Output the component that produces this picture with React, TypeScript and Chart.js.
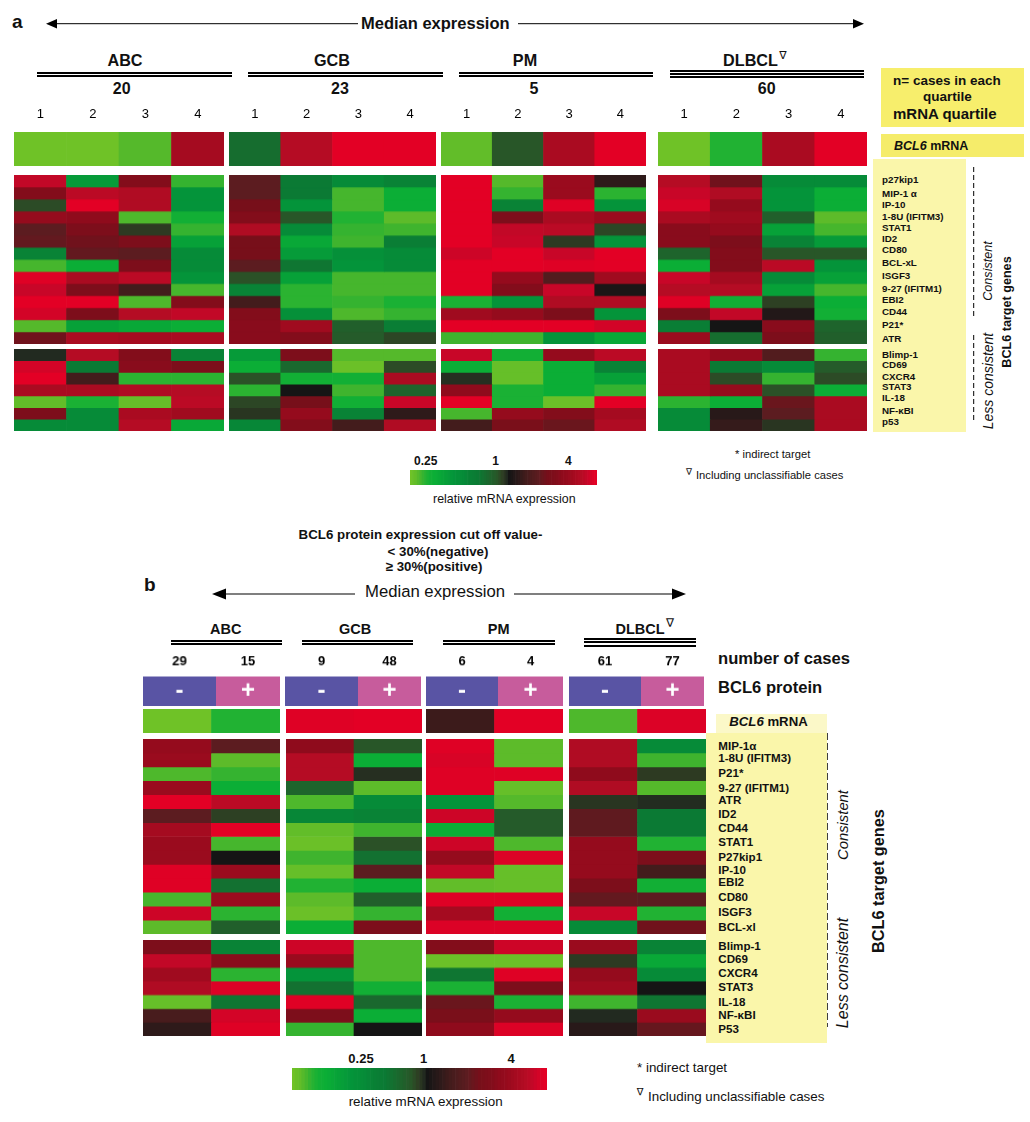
import React, { useEffect, useRef } from "react";
import { Chart, registerables } from "chart.js";

Chart.register(...registerables);

const FONT = '"Liberation Sans", Arial, sans-serif';

// ---------- data: log2-like relative expression ----------
const quartiles = ["1", "2", "3", "4"];
const groupsA = ["ABC", "GCB", "PM", "DLBCL"];
const countsA = ["20", "23", "5", "60"];
const countsB = [["29", "15"], ["9", "48"], ["6", "4"], ["61", "77"]];
const proteinClasses = ["-", "+"];

const genesA = ["p27kip1", "MIP-1 α", "IP-10", "1-8U (IFITM3)", "STAT1", "ID2", "CD80", "BCL-xL", "ISGF3", "9-27 (IFITM1)", "EBI2", "CD44", "P21*", "ATR", "Blimp-1", "CD69", "CXCR4", "STAT3", "IL-18", "NF-κBI", "p53"];
const genesB = ["MIP-1α", "1-8U (IFITM3)", "P21*", "9-27 (IFITM1)", "ATR", "ID2", "CD44", "STAT1", "P27kip1", "IP-10", "EBI2", "CD80", "ISGF3", "BCL-xl", "Blimp-1", "CD69", "CXCR4", "STAT3", "IL-18", "NF-κBI", "P53"];

const stripA = [
  [-3, -3, -2.5, 1.8],
  [-0.75, 2.1, 3, 3],
  [-2.7, -0.5, 1.9, 3],
  [-3, -1.9, 1.9, 3],
];
const consistentA_ABC = [
  [2.3, -1.3, 1.2, -2.1], [1.2, 2.2, 2.0, -1.2], [-0.4, 3, 2.0, -1.2], [1.5, 1.4, -2.4, -1.7],
  [0.6, 1.1, -0.25, -2.1], [0.7, 0.9, 1.1, -1.4], [-1.0, 0.7, 0.6, -1.1], [-2.3, -1.6, 1.1, -1.1],
  [2.9, 1.9, 2.2, -1.2], [2.4, 1.1, 0.35, -2.3], [3, 3, -2.4, 1.2], [2.6, 1.1, 2.1, 2.3],
  [-2.5, -1.4, -1.5, -1.6], [0.9, 1.9, 1.8, 1.9],
];
const lessA_ABC = [
  [-0.1, 2.1, 1.2, -1.0], [2.6, -0.9, 1.3, 1.1], [3, 0.35, -2.0, -2.0], [1.9, 1.9, 2.0, 2.1],
  [-2.7, -1.8, -2.8, 2.2], [1.1, -1.1, 1.9, 1.7], [-1.1, -1.1, 2.1, -1.5],
];
const consistentA_GCB = [
  [0.6, -0.9, -1.1, -1.0], [0.6, -0.9, -2.3, -1.6], [1.0, -1.2, -2.3, -1.6], [1.2, -0.5, -1.9, -2.6],
  [2.0, -1.1, -2.1, -2.2], [1.0, -1.5, -2.2, -0.95], [1.0, -1.3, -1.15, -1.1], [0.6, -0.85, -1.2, -1.1],
  [-0.45, -1.4, -2.3, -2.3], [-1.0, -2.0, -2.3, -2.3], [0.35, -2.0, -2.1, -1.8], [1.2, -1.15, -2.4, -2.1],
  [1.3, 1.7, -0.6, -0.95], [1.3, 1.2, -0.55, -0.35],
];
const lessA_GCB = [
  [-1.3, 1.1, -2.5, -2.5], [-1.6, -0.7, -2.9, -0.4], [-0.45, -1.7, -1.7, 1.9], [-2.0, 0, -2.2, -0.65],
  [-0.35, 1.0, -1.7, 2.4], [-0.2, 1.5, -1.0, 0.2], [-1.05, 1.2, 0.35, 2.0],
];
const consistentA_PM = [
  [3, -2.5, 1.6, 0.2], [3, -2.1, 1.6, -2.0], [3, -1.0, 2.9, -1.2], [3, 1.1, 1.9, 1.6],
  [3, 2.3, 2.2, -0.35], [3, 2.4, -0.25, -1.2], [2.5, 3, 2.4, 3], [3, 3, 2.9, 3],
  [3, 1.5, 0.5, 1.7], [3, 1.2, 2.4, 0.05], [-1.8, -1.2, 2.0, 2.0], [1.7, 1.5, 1.1, -1.2],
  [3, 3, 3, 2.6], [-2.2, -2.2, -1.2, -1.5],
];
const lessA_PM = [
  [2.4, -1.7, 1.5, 2.2], [-1.6, -2.8, -1.6, -1.0], [-0.15, -2.8, -1.6, -1.4], [1.4, -1.8, -1.6, -2.1],
  [3, -1.8, -2.9, 3], [-2.3, 1.5, 1.2, 1.8], [0.35, 1.05, 0.8, 2.0],
];
const consistentA_DLBCL = [
  [2.1, 0.9, -1.1, -1.1], [2.4, 2.0, -1.2, -1.6], [2.7, 1.5, -1.2, -1.6], [1.9, 1.7, -0.6, -2.6],
  [1.3, 1.5, -1.4, -2.3], [1.3, 1.1, -1.0, -1.3], [-0.65, 1.2, -0.5, -0.5], [-1.6, 1.2, 2.2, -1.2],
  [2.4, 1.8, -1.1, -1.4], [2.1, 2.1, -1.4, -2.3], [2.9, -1.7, -0.3, -1.6], [1.1, 2.3, 0.1, -1.7],
  [-0.95, 0, 1.3, -0.65], [1.6, -0.75, 1.1, -0.6],
];
const lessA_DLBCL = [
  [1.9, 1.5, 0.5, -2.1], [1.9, -0.9, -1.1, -0.55], [1.9, -0.4, -2.1, -0.4], [1.9, 1.5, -0.45, -1.6],
  [-2.0, -1.6, 0.8, 1.9], [-1.1, 0.15, 0.6, 1.9], [-1.1, 0.25, -0.2, 1.9],
];

const stripB = [[-3, -1.9], [2.9, 3], [0.3, 3], [-2.4, 2.8]];
const consistentB_ABC = [
  [1.5, 0.6], [1.6, -2.6], [-2.4, -2.1], [1.6, -1.6], [3, 2.2], [0.6, -0.3], [1.8, 3],
  [1.6, -2.3], [1.6, 0], [2.9, 1.6], [2.9, -0.8], [-2.3, 1.6], [2.5, -2.0], [-2.6, -0.6],
];
const lessB_ABC = [[1.1, -1.0], [2.3, 1.3], [1.7, -2.0], [2.0, 2.8], [-2.8, -0.85], [0.4, 2.6], [0.2, 2.9]];
const consistentB_GCB = [
  [1.4, -0.5], [2.1, -1.6], [2.1, -0.15], [-0.65, -2.6], [-2.4, -1.1], [-1.05, -1.0], [-2.7, -2.2],
  [-2.9, -0.45], [-2.2, -0.8], [-2.8, 0.6], [-1.9, -1.6], [-2.6, -0.6], [-2.9, -2.1], [-1.6, 1.1],
];
const lessB_GCB = [[2.5, -2.4], [1.6, -2.4], [-1.2, -2.4], [-0.8, -1.7], [2.9, -0.7], [1.1, -1.6], [-2.1, 0]];
const consistentB_PM = [
  [2.9, -2.6], [2.7, -2.6], [2.9, 2.9], [2.9, -2.8], [-1.2, -2.5], [2.5, -0.55], [-1.6, -0.55],
  [2.5, -2.4], [1.5, 2.8], [2.3, -2.8], [-2.7, -2.8], [2.9, 2.9], [1.8, -1.7], [2.8, 2.8],
];
const lessB_PM = [[1.2, 2.5], [-2.9, -2.9], [-0.85, 2.9], [-1.8, 1.1], [0.8, -1.8], [1.05, 1.5], [1.4, 2.8]];
const consistentB_DLBCL = [
  [2.0, -1.1], [2.0, -2.2], [1.4, -0.25], [2.0, -2.5], [-0.2, -0.12], [0.65, -0.9], [0.65, -0.9],
  [1.5, -1.9], [1.5, 1.1], [1.5, 0.35], [1.1, -1.7], [0.7, 0.6], [2.4, -1.9], [-1.1, 0.9],
];
const lessB_DLBCL = [[1.6, -1.0], [-0.25, -1.5], [1.5, -1.1], [1.7, 0], [-2.2, -0.85], [-0.1, 1.6], [0.15, 0.75]];

const legendScale = [
  -3, -2.85, -2.7, -2.5, -2.3, -2.1, -1.95, -1.8, -1.7, -1.65, -1.6, -1.55, -1.5, -1.45, -1.4, -1.35, -1.3, -1.25, -1.2, -1.17,
  -1.15, -1.12, -1.1, -1.05, -1.0, -0.97, -0.95, -0.92, -0.9, -0.85, -0.8, -0.75, -0.7, -0.65, -0.6, -0.55, -0.5, -0.4, -0.3, -0.2,
  -0.1, 0, 0.05, 0.1, 0.15, 0.2, 0.25, 0.3, 0.35, 0.4, 0.45, 0.5, 0.55, 0.6, 0.7, 0.8, 0.9, 1.0, 1.05, 1.1,
  1.15, 1.2, 1.3, 1.4, 1.45, 1.5, 1.6, 1.7, 1.8, 1.9, 2.0, 2.1, 2.2, 2.3, 2.45, 2.6, 2.8, 3,
];

// ---------- colour scale ----------
const COLOR_STOPS: [number, string][] = [
  [-3, "#6fc227"], [-2.6, "#5dbb2a"], [-2.2, "#3fb42e"], [-1.9, "#21b233"], [-1.6, "#0bae36"],
  [-1.2, "#04943a"], [-0.9, "#0b7a34"], [-0.65, "#1e642c"], [-0.45, "#2b5127"], [-0.25, "#2d3a22"],
  [-0.1, "#222a20"], [0, "#151515"], [0.2, "#2e1a1a"], [0.35, "#431c1c"], [0.6, "#5c1c20"],
  [1.0, "#770f1a"], [1.4, "#8f0b1c"], [1.8, "#a50b20"], [2.1, "#b50c24"], [2.4, "#c80628"],
  [2.7, "#d80326"], [3, "#e30025"],
];
const rgb = (h: string) => [1, 3, 5].map((i) => parseInt(h.slice(i, i + 2), 16));
function colorOf(v: number) {
  for (let i = 1; i < COLOR_STOPS.length; i++) {
    const [v1, c1] = COLOR_STOPS[i];
    if (v <= v1) {
      const [v0, c0] = COLOR_STOPS[i - 1];
      const t = (v - v0) / (v1 - v0);
      const a = rgb(c0);
      const b = rgb(c1);
      return `rgb(${a.map((x, k) => Math.round(x + (b[k] - x) * t)).join(",")})`;
    }
  }
  return COLOR_STOPS[COLOR_STOPS.length - 1][1];
}

// ---------- heatmap chart ----------
type HeatProps = {
  left: number; top: number; width: number; height: number;
  rows: number[][];
  colLabels?: string[];
  colors?: string[][];
  axisH?: number; axisPad?: number; axisFont?: any;
  cellText?: string; cellTextFont?: string;
};
function Heatmap({ left, top, width, height, rows, colLabels, colors, axisH = 0, axisPad = 0, axisFont, cellText, cellTextFont }: HeatProps) {
  const ref = useRef<HTMLCanvasElement>(null);
  useEffect(() => {
    const labels = colLabels || rows[0].map((_, i) => String(i + 1));
    const chart = new Chart(ref.current!, {
      type: "bar",
      data: {
        labels,
        datasets: rows.map((row, r) => ({
          data: row.map(() => [r, r + 1]),
          backgroundColor: row.map((v, c) => (colors ? colors[r][c] : colorOf(v))),
          borderWidth: 0,
          grouped: false,
          barPercentage: 1,
          categoryPercentage: 1,
        })),
      } as any,
      options: {
        responsive: false,
        animation: false,
        events: [],
        layout: { padding: 0 },
        plugins: { legend: { display: false }, tooltip: { enabled: false } },
        scales: {
          x: axisH
            ? {
                position: "top",
                grid: { display: false, drawTicks: false },
                border: { display: false },
                ticks: { padding: axisPad, maxRotation: 0, autoSkip: false, color: "#000", font: axisFont },
                afterFit: (s: any) => { s.height = axisH; },
              }
            : { display: false },
          y: { display: false, min: 0, max: rows.length, reverse: true },
        },
      } as any,
      plugins: cellText
        ? [{
            id: "cellText",
            afterDatasetsDraw(c: any) {
              const ctx = c.ctx;
              ctx.save();
              ctx.fillStyle = "#fff";
              ctx.font = cellTextFont;
              ctx.textAlign = "center";
              ctx.textBaseline = "middle";
              c.getDatasetMeta(0).data.forEach((b: any) => {
                const p = b.getCenterPoint();
                ctx.fillText(cellText, p.x, p.y);
              });
              ctx.restore();
            },
          }]
        : [],
    });
    return () => chart.destroy();
  }, []);
  return (
    <canvas
      ref={ref}
      width={width}
      height={height + axisH}
      style={{ position: "absolute", left, top: top - axisH, width, height: height + axisH, display: "block" }}
    />
  );
}

// ---------- text ----------
function T({ x, y, s, b, i, c, rot, color, family, children }: any) {
  const tx = c || rot ? "-50%" : "0";
  return (
    <div
      style={{
        position: "absolute", left: x, top: y, whiteSpace: "nowrap", fontFamily: family || FONT,
        fontSize: s, fontWeight: b ? 700 : 400, fontStyle: i ? "italic" : "normal", color: color || "#111",
        lineHeight: 1, transform: `translate(${tx},-50%)${rot ? ` rotate(${rot}deg)` : ""}`,
      }}
    >
      {children}
    </div>
  );
}
const Rect = ({ x, y, w, h, color }: any) => (
  <div style={{ position: "absolute", left: x, top: y, width: w, height: h, background: color }} />
);
const Lines = ({ x, w, ys, t }: any) => (
  <>{ys.map((y: number) => <Rect key={y} x={x} y={y} w={w} h={t} color="#000" />)}</>
);

// ---------- layout ----------
const colsA = [[14, 210], [228.5, 207], [440.5, 205], [657.5, 209]];
const stripAY = [131.5, 34.5];
const consAY = [175, 168.5];
const lessAY = [348.5, 82];
const colsB = [[143, 137], [285.5, 136], [425.5, 137], [569, 137]];
const stripBY = [709, 23.5];
const consBY = [738.5, 195.5];
const lessBY = [940, 95.5];
const proteinY = [676, 29.5];
const proteinSplit = [[143, 72.5, 64.5], [284.5, 73.5, 63], [425.5, 72, 65.5], [569, 72, 63]];

const geneYA = [180, 194, 205, 217, 228.3, 239.3, 250.3, 262.7, 276, 288.7, 300, 312, 325, 338.7, 354.7, 365.3, 376.7, 387.3, 398, 411, 422.3];
const geneYB = [746, 758.3, 772.7, 787.7, 800.3, 814.3, 828.3, 842.3, 856.7, 870, 882, 897, 911.7, 926.7, 946, 959.3, 973.3, 987.3, 1001.7, 1015, 1029.3];

const consA = [consistentA_ABC, consistentA_GCB, consistentA_PM, consistentA_DLBCL];
const lesA = [lessA_ABC, lessA_GCB, lessA_PM, lessA_DLBCL];
const consB = [consistentB_ABC, consistentB_GCB, consistentB_PM, consistentB_DLBCL];
const lesB = [lessB_ABC, lessB_GCB, lessB_PM, lessB_DLBCL];

const Nabla = ({ x, y, s }: any) => <T x={x} y={y} s={s} family='"DejaVu Sans"' c>∇</T>;

function Legend({ x, y, w, h }: any) {
  return <Heatmap left={x} top={y} width={w} height={h} rows={[legendScale]} colLabels={legendScale.map(String)} />;
}

export default function App() {
  return (
    <div style={{ position: "absolute", left: 0, top: 0, width: 1030, height: 1122, background: "#fff", overflow: "hidden" }}>
      {/* ---------- panel a ---------- */}
      <T x={12} y={21} s={19} b>a</T>
      <svg width={1030} height={1122} style={{ position: "absolute", left: 0, top: 0 }}>
        <g stroke="#000" fill="none">
          <line x1={55} y1={23.7} x2={358} y2={23.7} strokeWidth={1} />
          <line x1={518} y1={23.7} x2={855} y2={23.7} strokeWidth={1} />
          <line x1={224} y1={594} x2={355} y2={594} strokeWidth={1.2} />
          <line x1={514} y1={594} x2={674} y2={594} strokeWidth={1.2} />
          <line x1={973.7} y1={167} x2={973.7} y2={319} strokeWidth={1} strokeDasharray="5 3" />
          <line x1={973.7} y1={335} x2={973.7} y2={421} strokeWidth={1} strokeDasharray="5 3" />
          <line x1={827} y1={733} x2={827} y2={1027} strokeWidth={1.5} strokeDasharray="7 3" />
        </g>
        <g fill="#000">
          <polygon points="46,23.7 57,19 57,28.5" />
          <polygon points="864,23.7 853,19 853,28.5" />
          <polygon points="212,594 226,588.5 226,599.5" />
          <polygon points="686,594 672,588.5 672,599.5" />
        </g>
      </svg>
      <T x={361} y={23} s={16.5} b>Median expression</T>

      {groupsA.map((g, i) => (
        <T key={g} x={[125, 332, 525, 750.5][i]} y={60} s={16.2} b c>{g}</T>
      ))}
      <Nabla x={783} y={55} s={11} />
      {[[37, 194.5], [248, 194.5], [459, 194]].map(([x, w]) => (
        <Lines key={x} x={x} w={w} ys={[72, 75]} t={1.5} />
      ))}
      <Lines x={670} w={194} ys={[70, 73, 76]} t={1.8} />
      {countsA.map((n, i) => (
        <T key={n} x={[121.7, 340, 534, 766.7][i]} y={88.5} s={16} b c>{n}</T>
      ))}

      {colsA.map(([x, w], g) => (
        <React.Fragment key={g}>
          <Heatmap left={x} top={stripAY[0]} width={w} height={stripAY[1]} rows={[stripA[g]]} colLabels={quartiles}
            axisH={30} axisPad={9.5} axisFont={{ family: "Liberation Sans", size: 13 }} />
          <Heatmap left={x} top={consAY[0]} width={w} height={consAY[1]} rows={consA[g]} colLabels={quartiles} />
          <Heatmap left={x} top={lessAY[0]} width={w} height={lessAY[1]} rows={lesA[g]} colLabels={quartiles} />
        </React.Fragment>
      ))}

      <Rect x={881} y={67.5} w={143} h={59.5} color="#f7ee6c" />
      <T x={893} y={80.7} s={13.5} b>n= cases in each</T>
      <T x={947.5} y={97.3} s={13.5} b c>quartile</T>
      <T x={893} y={113} s={15} b>mRNA quartile</T>
      <Rect x={881} y={133.5} w={143} h={23.5} color="#f5ec6a" />
      <T x={894} y={145.5} s={12.5} b><i>BCL6</i> mRNA</T>
      <Rect x={872.5} y={158.5} w={93} h={273.5} color="#faf6aa" />
      {genesA.map((g, i) => <T key={g} x={882} y={geneYA[i]} s={9.8} b>{g}</T>)}
      <T x={988} y={271} s={12.6} i rot={-90}>Consistent</T>
      <T x={988} y={381} s={14} i rot={-90}>Less consistent</T>
      <T x={1007} y={311.7} s={12.6} b rot={-90}>BCL6 target genes</T>

      <T x={425.7} y={461} s={12} b c>0.25</T>
      <T x={495.7} y={461} s={12} b c>1</T>
      <T x={568.3} y={461} s={12} b c>4</T>
      <Legend x={410} y={469.5} w={187} h={15} />
      <T x={504.3} y={498.5} s={12.4} c>relative mRNA expression</T>
      <T x={735} y={455} s={11.2}>* indirect target</T>
      <Nabla x={689} y={472} s={9} />
      <T x={696} y={476} s={11.2}>Including unclassifiable cases</T>

      <T x={420.5} y={535} s={13.3} b c>BCL6 protein expression cut off value-</T>
      <T x={438} y={551.7} s={13.3} b c>&lt; 30%(negative)</T>
      <T x={434} y={567.3} s={13.3} b c>≥ 30%(positive)</T>

      {/* ---------- panel b ---------- */}
      <T x={144} y={584} s={19} b>b</T>
      <T x={365} y={592} s={16.7}>Median expression</T>
      {groupsA.map((g, i) => (
        <T key={g} x={[225.7, 355, 498.7, 640][i]} y={629} s={14.5} b c>{g}</T>
      ))}
      <Nabla x={670} y={623} s={12} />
      {[[170.7, 111.3], [302, 111.3], [443.3, 111.4]].map(([x, w]) => (
        <Lines key={x} x={x} w={w} ys={[640, 643]} t={1.7} />
      ))}
      <Lines x={584.3} w={111.7} ys={[637.5, 641, 645]} t={2} />

      {proteinSplit.map(([x, w0, w1], g) => (
        <React.Fragment key={g}>
          <Heatmap left={x} top={proteinY[0]} width={w0} height={proteinY[1]} rows={[[0]]} colLabels={[countsB[g][0]]}
            colors={[["#5954a4"]]} axisH={26} axisPad={6.5} axisFont={{ family: "Liberation Sans", size: 13, weight: "bold" }}
            cellText={proteinClasses[0]} cellTextFont={'bold 24px "Liberation Sans"'} />
          <Heatmap left={x + w0} top={proteinY[0]} width={w1} height={proteinY[1]} rows={[[0]]} colLabels={[countsB[g][1]]}
            colors={[["#c75c9c"]]} axisH={26} axisPad={6.5} axisFont={{ family: "Liberation Sans", size: 13, weight: "bold" }}
            cellText={proteinClasses[1]} cellTextFont={'bold 24px "Liberation Sans"'} />
        </React.Fragment>
      ))}
      {colsB.map(([x, w], g) => (
        <React.Fragment key={g}>
          <Heatmap left={x} top={stripBY[0]} width={w} height={stripBY[1]} rows={[stripB[g]]} colLabels={proteinClasses} />
          <Heatmap left={x} top={consBY[0]} width={w} height={consBY[1]} rows={consB[g]} colLabels={proteinClasses} />
          <Heatmap left={x} top={lessBY[0]} width={w} height={lessBY[1]} rows={lesB[g]} colLabels={proteinClasses} />
        </React.Fragment>
      ))}

      <T x={718} y={659.3} s={16.6} b>number of cases</T>
      <T x={718} y={688.3} s={16.6} b>BCL6 protein</T>
      <Rect x={716} y={714} w={111} h={19} color="#fbf8c8" />
      <T x={729.3} y={721.5} s={13.2} b><i>BCL6</i> mRNA</T>
      <Rect x={706} y={732.7} w={121} h={310} color="#faf6aa" />
      {genesB.map((g, i) => <T key={g} x={718.3} y={geneYB[i]} s={11.6} b>{g}</T>)}
      <T x={843.3} y={825} s={14.8} i rot={-90}>Consistent</T>
      <T x={843.3} y={973} s={16} i rot={-90}>Less consistent</T>
      <T x={878.3} y={880.8} s={16.3} b rot={-90}>BCL6 target genes</T>

      <T x={361} y={1057.7} s={13} b c>0.25</T>
      <T x={423.7} y={1057.7} s={13} b c>1</T>
      <T x={511} y={1057.7} s={13} b c>4</T>
      <Legend x={292} y={1068} w={255} h={22} />
      <T x={425.7} y={1102.3} s={13.4} c>relative mRNA expression</T>
      <T x={637} y={1068} s={13.4}>* indirect target</T>
      <Nabla x={640} y={1092} s={10} />
      <T x={648} y={1097} s={13.4}>Including unclassifiable cases</T>
    </div>
  );
}
